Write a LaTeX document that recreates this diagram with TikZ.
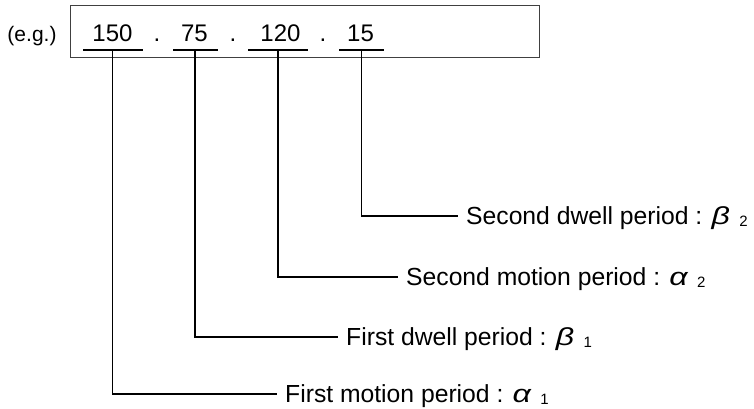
\documentclass[tikz,border=0pt]{standalone}
\usepackage{fontspec}
\usepackage{graphicx}
\setmainfont{Liberation Sans}
\newcommand\lowsub[1]{\hspace{9.5pt}\raisebox{-2pt}{\fontsize{15}{15}\selectfont #1}}
\newcommand\grk[1]{{\itshape\scalebox{1.3}[1]{#1}}}
\begin{document}
\begin{tikzpicture}[x=1pt,y=-1pt,
  lbl/.style={anchor=west, inner xsep=8pt, inner ysep=0pt, text height=23.7pt, text depth=6pt, font=\fontsize{24.7}{28}\selectfont},
  num/.style={anchor=base, inner sep=0pt, font=\fontsize{24}{28}\selectfont},
  eg/.style={anchor=base, inner sep=0pt, font=\fontsize{21}{25}\selectfont},
  frame/.style={draw=black!75, line width=1pt, inner sep=0pt},
  ul/.style={line width=2.2pt, line cap=butt},
  conn/.style={line width=1.1pt}]
\useasboundingbox (0,0) rectangle (754,409);
% frame
\node[frame, minimum width=469pt, minimum height=52pt] (box) at (304.5,32) {};
% texts in frame
\node[eg] (eg) at (32,42) {(e.g.)};
\node[num] (n1) at (112.5,42) {150};
\node[num] (p1) at (157,42) {.};
\node[num] (n2) at (194.5,42) {75};
\node[num] (p2) at (233,42) {.};
\node[num] (n3) at (280.5,42) {120};
\node[num] (p3) at (323,42) {.};
\node[num] (n4) at (360.5,42) {15};
% underline coordinates
\coordinate (c1) at (112.5,50);
\coordinate (c2) at (195,50);
\coordinate (c3) at (278,50);
\coordinate (c4) at (361.5,50);
\draw[ul] ([xshift=-29.5pt]c1) -- ([xshift=30.5pt]c1);
\draw[ul] ([xshift=-22pt]c2) -- ([xshift=23pt]c2);
\draw[ul] ([xshift=-30pt]c3) -- ([xshift=30pt]c3);
\draw[ul] ([xshift=-22.5pt]c4) -- ([xshift=22.5pt]c4);
% labels
\node[lbl] (l4) at (458,216) {Second dwell period : \grk{β}\lowsub{2}};
\node[lbl] (l3) at (398,277) {Second motion period : \grk{α}\lowsub{2}};
\node[lbl] (l2) at (338,337) {First dwell period : \grk{β}\lowsub{1}};
\node[lbl] (l1) at (277,394) {First motion period : \grk{α}\lowsub{1}};
% connectors
\draw[conn] (c4) |- (l4.west);
\draw[conn] (c3) |- (l3.west);
\draw[conn] (c2) |- (l2.west);
\draw[conn] (c1) |- (l1.west);
\end{tikzpicture}
\end{document}
